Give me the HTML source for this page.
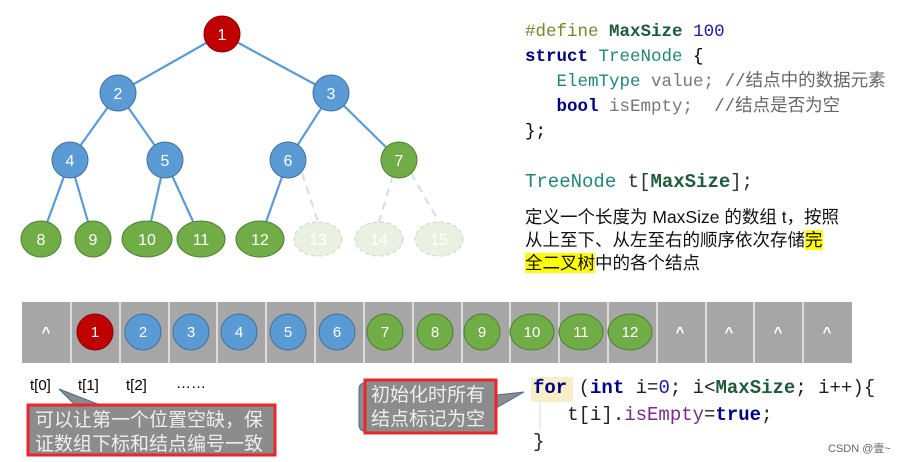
<!DOCTYPE html>
<html><head><meta charset="utf-8"><style>
body{margin:0;width:910px;height:462px;background:#fff;overflow:hidden;position:relative;font-family:"Liberation Sans","Noto Sans CJK SC",sans-serif}
.mono{font-family:"Liberation Mono","Noto Sans CJK SC",monospace}
.a{position:absolute;white-space:nowrap}
</style></head><body>
<svg width="910" height="462" style="position:absolute;left:0;top:0" font-family="Liberation Sans, sans-serif">
<g stroke="#5b9bd5" stroke-width="2.2">
<line x1="222" y1="34" x2="118" y2="93"/><line x1="222" y1="34" x2="331" y2="93"/>
<line x1="118" y1="93" x2="70" y2="160"/><line x1="118" y1="93" x2="165" y2="160"/>
<line x1="331" y1="93" x2="288" y2="160"/><line x1="331" y1="93" x2="399" y2="160"/>
<line x1="70" y1="160" x2="41" y2="239"/><line x1="70" y1="160" x2="93" y2="239"/>
<line x1="165" y1="160" x2="147" y2="239"/><line x1="165" y1="160" x2="201" y2="239"/>
<line x1="288" y1="160" x2="260" y2="239"/>
</g>
<g stroke="#d5dde6" stroke-width="2" stroke-dasharray="8,6">
<line x1="302" y1="173" x2="318" y2="222"/><line x1="393" y1="175" x2="379" y2="222"/><line x1="411" y1="173" x2="439" y2="222"/>
</g>
<g stroke="#41719c" stroke-width="1">
<circle cx="222" cy="34" r="18" fill="#c00000" stroke="#8b0000"/>
<circle cx="118" cy="93" r="18" fill="#5b9bd5"/><circle cx="331" cy="93" r="18" fill="#5b9bd5"/>
<circle cx="70" cy="160" r="18" fill="#5b9bd5"/><circle cx="165" cy="160" r="18" fill="#5b9bd5"/>
<circle cx="288" cy="160" r="18" fill="#5b9bd5"/><circle cx="399" cy="160" r="18" fill="#70ad47" stroke="#507e32"/>
</g>
<g fill="#70ad47" stroke="#507e32">
<ellipse cx="41" cy="239" rx="20" ry="18"/><ellipse cx="93" cy="239" rx="18" ry="18"/>
<ellipse cx="147" cy="239" rx="25" ry="18"/><ellipse cx="201" cy="239" rx="24" ry="18"/>
<ellipse cx="260" cy="239" rx="24" ry="18"/>
</g>
<g fill="#e9f1e3" stroke="#c9d6c0" stroke-dasharray="4,3">
<ellipse cx="318" cy="239" rx="24" ry="17"/><ellipse cx="379" cy="239" rx="24" ry="17"/><ellipse cx="439" cy="239" rx="24" ry="17"/>
</g>
<g fill="#fff" font-size="16" text-anchor="middle">
<text x="222" y="40">1</text><text x="118" y="99">2</text><text x="331" y="99">3</text>
<text x="70" y="166">4</text><text x="165" y="166">5</text><text x="288" y="166">6</text><text x="399" y="166">7</text>
<text x="41" y="245">8</text><text x="93" y="245">9</text><text x="147" y="245">10</text><text x="201" y="245">11</text><text x="260" y="245">12</text>
<text x="318" y="245">13</text><text x="379" y="245">14</text><text x="439" y="245">15</text>
</g>
<rect x="22" y="302" width="830" height="61" fill="#a6a6a6"/>
<g stroke="#fff" stroke-width="1.2">
<line x1="71" y1="302" x2="71" y2="363"/><line x1="120" y1="302" x2="120" y2="363"/><line x1="169" y1="302" x2="169" y2="363"/><line x1="217" y1="302" x2="217" y2="363"/><line x1="266" y1="302" x2="266" y2="363"/><line x1="315" y1="302" x2="315" y2="363"/><line x1="364" y1="302" x2="364" y2="363"/><line x1="413" y1="302" x2="413" y2="363"/><line x1="462" y1="302" x2="462" y2="363"/><line x1="510" y1="302" x2="510" y2="363"/><line x1="559" y1="302" x2="559" y2="363"/><line x1="608" y1="302" x2="608" y2="363"/><line x1="657" y1="302" x2="657" y2="363"/><line x1="706" y1="302" x2="706" y2="363"/><line x1="754" y1="302" x2="754" y2="363"/><line x1="803" y1="302" x2="803" y2="363"/>
</g>
<g stroke="#41719c">
<ellipse cx="95" cy="332" rx="18" ry="18" fill="#c00000" stroke="#8b0000"/>
<ellipse cx="143" cy="332" rx="18" ry="18" fill="#5b9bd5"/><ellipse cx="191" cy="332" rx="18" ry="18" fill="#5b9bd5"/><ellipse cx="239" cy="332" rx="18" ry="18" fill="#5b9bd5"/><ellipse cx="288" cy="332" rx="18" ry="18" fill="#5b9bd5"/><ellipse cx="337" cy="332" rx="18" ry="18" fill="#5b9bd5"/>
</g>
<g fill="#70ad47" stroke="#507e32">
<ellipse cx="385" cy="332" rx="18" ry="18"/><ellipse cx="435" cy="332" rx="18" ry="18"/><ellipse cx="482" cy="332" rx="18" ry="18"/><ellipse cx="532" cy="332" rx="22" ry="18"/><ellipse cx="581" cy="332" rx="22" ry="18"/><ellipse cx="630" cy="332" rx="22" ry="18"/>
</g>
<g fill="#fff" font-size="15" text-anchor="middle">
<text x="46" y="337" font-weight="bold">^</text>
<text x="95" y="337">1</text><text x="143" y="337">2</text><text x="191" y="337">3</text><text x="239" y="337">4</text><text x="288" y="337">5</text><text x="337" y="337">6</text><text x="385" y="337">7</text><text x="435" y="337">8</text><text x="482" y="337">9</text><text x="532" y="337">10</text><text x="581" y="337">11</text><text x="630" y="337">12</text>
<text x="680" y="337" font-weight="bold">^</text><text x="729" y="337" font-weight="bold">^</text><text x="778" y="337" font-weight="bold">^</text><text x="827" y="337" font-weight="bold">^</text>
</g>
<g font-size="15" fill="#000"><text x="30" y="390">t[0]</text><text x="78" y="390">t[1]</text><text x="126" y="390">t[2]</text><text x="176" y="388">……</text></g>
<polygon points="59,389 75,405 100,405" fill="#8c8c8c" stroke="#41719c"/>
<rect x="28" y="405" width="247" height="50" fill="#8c8c8c" stroke="#e8262c" stroke-width="3"/>
<text x="35" y="426" font-size="19" fill="#eee" font-family="Noto Sans CJK SC, sans-serif">可以让第一个位置空缺，保</text>
<text x="35" y="450" font-size="19" fill="#eee" font-family="Noto Sans CJK SC, sans-serif">证数组下标和结点编号一致</text>
<polygon points="496,395 524,392 496,408" fill="#8c8c8c" stroke="#41719c"/>
<rect x="359" y="383" width="10" height="48" rx="6" fill="#8c8c8c" stroke="#41719c"/>
<rect x="365" y="380" width="131" height="53" fill="#8c8c8c" stroke="#e8262c" stroke-width="3"/>
<text x="371" y="401" font-size="19" fill="#eee" font-family="Noto Sans CJK SC, sans-serif">初始化时所有</text>
<text x="371" y="425" font-size="19" fill="#eee" font-family="Noto Sans CJK SC, sans-serif">结点标记为空</text>
<rect x="531" y="377" width="42" height="25" fill="#f8efc8"/>
<line x1="540" y1="402" x2="540" y2="430" stroke="#ddd"/>
</svg>
<div class="a mono" style="left:525px;top:20px;font-size:17.5px;line-height:25px">
<div><span style="color:#808030">#define</span> <b style="color:#1e5a3c">MaxSize</b> <span style="color:#1a1aa6">100</span></div>
<div><b style="color:#000080">struct</b> <span style="color:#20877a">TreeNode</span> {</div>
<div>&nbsp;&nbsp;&nbsp;<span style="color:#20877a">ElemType</span> <span style="color:#777">value;</span> <span style="color:#666">//结点中的数据元素</span></div>
<div>&nbsp;&nbsp;&nbsp;<b style="color:#000080">bool</b> <span style="color:#777">isEmpty;</span>&nbsp;&nbsp;<span style="color:#666">//结点是否为空</span></div>
<div>};</div>
</div>
<div class="a mono" style="left:525px;top:171px;font-size:19px"><span style="color:#20877a">TreeNode</span> <span style="color:#333">t[</span><b style="color:#1e5a3c">MaxSize</b><span style="color:#333">];</span></div>
<div class="a" style="left:525px;top:206px;font-size:17.5px;line-height:23px;color:#111">定义一个长度为 MaxSize 的数组 t，按照<br>从上至下、从左至右的顺序依次存储<span style="background:#ffff00">完</span><br><span style="background:#ffff00">全二叉树</span>中的各个结点</div>
<div class="a mono" style="left:533px;top:375px;font-size:19px;line-height:27px;color:#222">
<div><b style="color:#000080">for</b> (<b style="color:#000080">int</b> i=<span style="color:#1a1aa6">0</span>; i&lt;<b style="color:#1e5a3c">MaxSize</b>; i++){</div>
<div>&nbsp;&nbsp;&nbsp;t[i].<span style="color:#7a2a8a">isEmpty</span>=<b style="color:#000080">true</b>;</div>
<div>}</div>
</div>
<div class="a" style="left:828px;top:440px;font-size:11px;color:#666">CSDN @壹~</div>
</body></html>
